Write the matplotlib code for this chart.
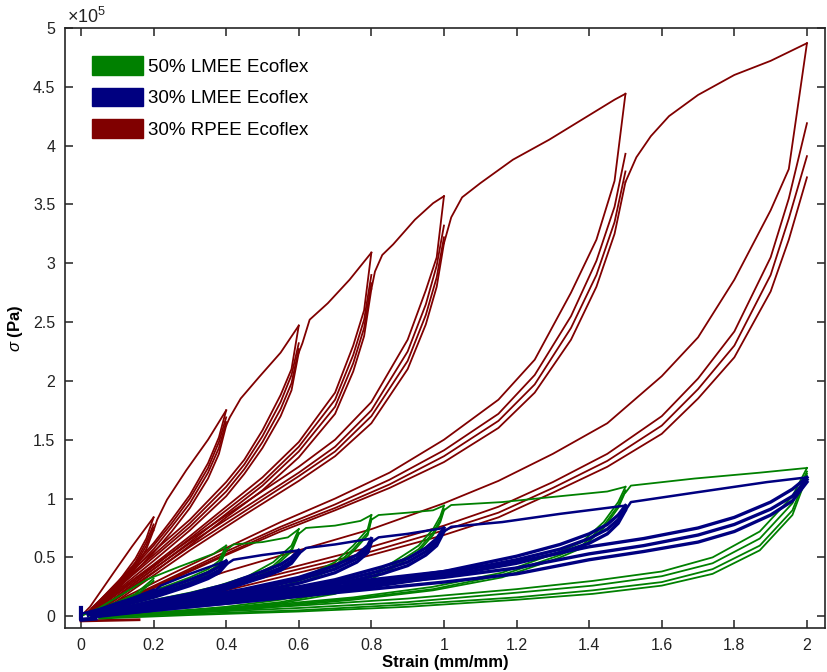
import matplotlib
matplotlib.use('Agg')
import matplotlib.pyplot as plt
from matplotlib.patches import Patch
from matplotlib.ticker import FuncFormatter, MultipleLocator

# stress values are in units of 1e5 Pa, strain in mm/mm
RED = '#800000'
GREEN = '#008000'
BLUE = '#000080'

LABELS = ['50% LMEE Ecoflex', '30% LMEE Ecoflex', '30% RPEE Ecoflex']

# ---------------- 30% RPEE Ecoflex (red) ----------------
# loading path (virgin curve + re-joins after each cycle block)
red_env_strain = [
    [0.0, 0.025, 0.09, 0.14, 0.2],
    [0.2, 0.21, 0.237, 0.29, 0.35, 0.4],
    [0.4, 0.41, 0.44, 0.49, 0.55, 0.6],
    [0.6, 0.61, 0.63, 0.68, 0.74, 0.8],
    [0.8, 0.81, 0.83, 0.86, 0.92, 0.97, 1.0],
    [1.0, 1.02, 1.05, 1.10, 1.19, 1.29, 1.38, 1.47, 1.5],
    [1.5, 1.53, 1.57, 1.62, 1.70, 1.80, 1.90, 2.0],
]
red_env_stress = [
    [0.0, 0.08, 0.37, 0.59, 0.84],
    [0.73, 0.82, 0.99, 1.24, 1.50, 1.75],
    [1.62, 1.69, 1.85, 2.03, 2.24, 2.47],
    [2.24, 2.32, 2.52, 2.66, 2.86, 3.09],
    [2.78, 2.93, 3.07, 3.16, 3.37, 3.51, 3.57],
    [3.17, 3.39, 3.56, 3.68, 3.88, 4.05, 4.22, 4.39, 4.44],
    [3.69, 3.90, 4.08, 4.25, 4.43, 4.60, 4.72, 4.87],
]
red_return_strain = [0.0, 0.16]
red_return_stress = [-0.04, -0.03]

# cycles at each maximum strain
red_l02_strain = [0.2, 0.18, 0.15, 0.1, 0.05, 0.02]
red_l02_stress = [
    [0.84, 0.66, 0.49, 0.28, 0.12, 0.03],
    [0.78, 0.63, 0.46, 0.26, 0.11, 0.02],
    [0.75, 0.60, 0.44, 0.25, 0.10, 0.02],
    [0.73, 0.57, 0.41, 0.23, 0.09, 0.01],
]
red_l04_strain = [0.4, 0.38, 0.35, 0.3, 0.25, 0.2, 0.15, 0.1, 0.05, 0.02]
red_l04_stress = [
    [1.75, 1.52, 1.30, 1.03, 0.82, 0.62, 0.45, 0.29, 0.13, 0.04],
    [1.69, 1.48, 1.26, 1.00, 0.79, 0.60, 0.43, 0.27, 0.12, 0.03],
    [1.65, 1.43, 1.22, 0.96, 0.76, 0.57, 0.41, 0.25, 0.11, 0.02],
    [1.62, 1.38, 1.17, 0.92, 0.72, 0.54, 0.38, 0.23, 0.09, 0.01],
]
red_l06_strain = [0.6, 0.58, 0.55, 0.5, 0.45, 0.4, 0.3, 0.2, 0.1, 0.03]
red_l06_stress = [
    [2.47, 2.10, 1.88, 1.58, 1.33, 1.14, 0.82, 0.55, 0.28, 0.07],
    [2.32, 2.05, 1.82, 1.53, 1.29, 1.10, 0.79, 0.52, 0.26, 0.05],
    [2.27, 1.98, 1.76, 1.48, 1.25, 1.06, 0.76, 0.50, 0.24, 0.04],
    [2.24, 1.92, 1.70, 1.43, 1.21, 1.02, 0.73, 0.47, 0.22, 0.02],
]
red_l08_strain = [0.8, 0.78, 0.75, 0.7, 0.6, 0.5, 0.4, 0.3, 0.2, 0.1, 0.03]
red_l08_stress = [
    [3.09, 2.60, 2.30, 1.90, 1.48, 1.18, 0.93, 0.68, 0.44, 0.21, 0.04],
    [2.90, 2.52, 2.22, 1.84, 1.44, 1.14, 0.90, 0.66, 0.42, 0.19, 0.03],
    [2.83, 2.45, 2.15, 1.78, 1.40, 1.11, 0.87, 0.63, 0.40, 0.17, 0.02],
    [2.78, 2.38, 2.08, 1.72, 1.35, 1.07, 0.84, 0.60, 0.37, 0.15, 0.0],
]
red_l10_strain = [1.0, 0.98, 0.95, 0.9, 0.8, 0.7, 0.6, 0.45, 0.3, 0.15, 0.04]
red_l10_stress = [
    [3.57, 3.05, 2.77, 2.35, 1.82, 1.50, 1.27, 0.96, 0.65, 0.32, 0.05],
    [3.32, 2.98, 2.65, 2.25, 1.75, 1.44, 1.22, 0.92, 0.62, 0.29, 0.03],
    [3.22, 2.88, 2.56, 2.17, 1.70, 1.40, 1.19, 0.89, 0.59, 0.27, 0.02],
    [3.17, 2.80, 2.48, 2.10, 1.64, 1.36, 1.15, 0.86, 0.56, 0.24, 0.0],
]
red_l15_strain = [1.5, 1.47, 1.42, 1.35, 1.25, 1.15, 1.0, 0.85, 0.7, 0.55, 0.4, 0.25, 0.12, 0.04]
red_l15_stress = [
    [4.44, 3.70, 3.20, 2.75, 2.18, 1.84, 1.50, 1.22, 1.00, 0.80, 0.58, 0.36, 0.16, 0.03],
    [3.93, 3.48, 3.02, 2.55, 2.05, 1.72, 1.41, 1.16, 0.95, 0.76, 0.55, 0.33, 0.14, 0.01],
    [3.78, 3.35, 2.90, 2.45, 1.97, 1.66, 1.36, 1.12, 0.92, 0.74, 0.53, 0.32, 0.13, 0.0],
    [3.69, 3.25, 2.80, 2.35, 1.90, 1.60, 1.31, 1.09, 0.90, 0.72, 0.52, 0.31, 0.12, 0.0],
]
red_l20_strain = [2.0, 1.95, 1.9, 1.8, 1.7, 1.6, 1.45, 1.3, 1.15, 1.0, 0.8, 0.6, 0.4, 0.2, 0.08]
red_l20_stress = [
    [4.87, 3.80, 3.45, 2.86, 2.37, 2.04, 1.64, 1.38, 1.15, 0.96, 0.74, 0.56, 0.38, 0.18, 0.05],
    [4.19, 3.55, 3.05, 2.42, 2.02, 1.70, 1.38, 1.14, 0.93, 0.77, 0.59, 0.43, 0.27, 0.11, 0.02],
    [3.91, 3.38, 2.90, 2.30, 1.93, 1.62, 1.32, 1.09, 0.88, 0.73, 0.55, 0.40, 0.25, 0.09, 0.01],
    [3.73, 3.20, 2.76, 2.20, 1.85, 1.55, 1.27, 1.05, 0.84, 0.69, 0.52, 0.37, 0.22, 0.06, 0.0],
]

# ---------------- 50% LMEE Ecoflex (green) ----------------
green_env_strain = [
    [0.0, 0.05, 0.18, 0.27, 0.365, 0.4],
    [0.4, 0.42, 0.5, 0.57, 0.6],
    [0.6, 0.62, 0.7, 0.77, 0.8],
    [0.8, 0.82, 0.9, 0.97, 1.0],
    [1.0, 1.02, 1.16, 1.32, 1.45, 1.5],
    [1.5, 1.515, 1.69, 1.87, 2.0],
]
green_env_stress = [
    [0.0, 0.07, 0.31, 0.42, 0.53, 0.60],
    [0.56, 0.61, 0.63, 0.67, 0.74],
    [0.70, 0.75, 0.77, 0.81, 0.86],
    [0.82, 0.86, 0.88, 0.90, 0.94],
    [0.90, 0.945, 0.97, 1.02, 1.06, 1.10],
    [1.05, 1.11, 1.17, 1.22, 1.26],
]
green_l02_strain = [0.2, 0.15, 0.1, 0.05, 0.02]
green_l02_stress = [
    [0.32, 0.19, 0.12, 0.05, 0.01],
    [0.30, 0.17, 0.10, 0.04, 0.0],
]
green_l04_strain = [0.4, 0.38, 0.35, 0.3, 0.23, 0.15, 0.09, 0.03]
green_l04_stress = [
    [0.60, 0.47, 0.40, 0.33, 0.25, 0.17, 0.11, 0.03],
    [0.57, 0.44, 0.38, 0.31, 0.23, 0.15, 0.09, 0.02],
    [0.56, 0.42, 0.36, 0.29, 0.21, 0.13, 0.07, 0.01],
]
green_l06_strain = [0.6, 0.58, 0.53, 0.46, 0.38, 0.3, 0.22, 0.12, 0.04]
green_l06_stress = [
    [0.74, 0.60, 0.46, 0.34, 0.26, 0.20, 0.15, 0.08, 0.02],
    [0.71, 0.57, 0.43, 0.32, 0.24, 0.18, 0.13, 0.06, 0.01],
    [0.70, 0.55, 0.41, 0.30, 0.22, 0.16, 0.11, 0.05, 0.0],
]
green_l08_strain = [0.8, 0.79, 0.75, 0.7, 0.62, 0.51, 0.4, 0.25, 0.1, 0.03]
green_l08_stress = [
    [0.86, 0.74, 0.60, 0.46, 0.34, 0.23, 0.16, 0.09, 0.03, 0.01],
    [0.83, 0.71, 0.57, 0.43, 0.32, 0.21, 0.14, 0.08, 0.02, 0.0],
    [0.82, 0.69, 0.55, 0.41, 0.30, 0.20, 0.13, 0.07, 0.02, 0.0],
]
green_l10_strain = [1.0, 0.99, 0.97, 0.93, 0.86, 0.79, 0.7, 0.55, 0.4, 0.2, 0.05]
green_l10_stress = [
    [0.94, 0.85, 0.74, 0.60, 0.46, 0.34, 0.23, 0.14, 0.08, 0.03, 0.0],
    [0.91, 0.82, 0.71, 0.57, 0.43, 0.32, 0.21, 0.12, 0.07, 0.02, 0.0],
    [0.90, 0.80, 0.69, 0.55, 0.41, 0.30, 0.19, 0.11, 0.06, 0.02, 0.0],
]
green_l15_strain = [1.5, 1.48, 1.44, 1.38, 1.32, 1.16, 0.97, 0.75, 0.5, 0.25, 0.05]
green_l15_stress = [
    [1.10, 0.97, 0.80, 0.63, 0.55, 0.37, 0.25, 0.16, 0.09, 0.04, 0.0],
    [1.07, 0.94, 0.77, 0.60, 0.52, 0.35, 0.23, 0.15, 0.08, 0.03, 0.0],
    [1.06, 0.92, 0.75, 0.58, 0.50, 0.33, 0.22, 0.14, 0.07, 0.02, 0.0],
]
green_l20_strain = [2.0, 1.96, 1.87, 1.74, 1.6, 1.41, 1.2, 0.9, 0.6, 0.3, 0.05]
green_l20_stress = [
    [1.26, 1.02, 0.72, 0.50, 0.38, 0.30, 0.23, 0.15, 0.09, 0.04, 0.0],
    [1.23, 0.96, 0.66, 0.45, 0.34, 0.26, 0.20, 0.12, 0.07, 0.03, 0.0],
    [1.21, 0.90, 0.60, 0.40, 0.29, 0.22, 0.16, 0.10, 0.05, 0.02, -0.01],
    [1.19, 0.86, 0.56, 0.36, 0.26, 0.19, 0.14, 0.08, 0.04, 0.01, -0.02],
]

# ---------------- 30% LMEE Ecoflex (blue) ----------------
blue_env_strain = [
    [0.0, 0.05, 0.1, 0.15, 0.2],
    [0.2, 0.22, 0.3, 0.4],
    [0.4, 0.42, 0.5, 0.6],
    [0.6, 0.62, 0.7, 0.8],
    [0.8, 0.82, 0.9, 1.0],
    [1.0, 1.02, 1.16, 1.32, 1.5],
    [1.5, 1.515, 1.69, 1.89, 2.0],
]
blue_env_stress = [
    [0.02, 0.06, 0.11, 0.16, 0.22],
    [0.21, 0.26, 0.36, 0.47],
    [0.44, 0.48, 0.52, 0.56],
    [0.53, 0.58, 0.61, 0.66],
    [0.63, 0.67, 0.70, 0.75],
    [0.72, 0.76, 0.80, 0.87, 0.94],
    [0.90, 0.97, 1.05, 1.14, 1.18],
]
blue_return_strain = [0.0, 0.0, 0.04]
blue_return_stress = [0.07, -0.03, -0.02]
blue_l02_strain = [0.2, 0.15, 0.1, 0.05, 0.02]
blue_l02_stress = [
    [0.22, 0.16, 0.10, 0.05, 0.02],
    [0.21, 0.14, 0.09, 0.04, 0.01],
]
blue_l04_strain = [0.4, 0.38, 0.35, 0.3, 0.2, 0.1, 0.03]
blue_l04_stress = [
    [0.47, 0.42, 0.37, 0.31, 0.20, 0.11, 0.03],
    [0.45, 0.39, 0.34, 0.28, 0.18, 0.09, 0.02],
    [0.44, 0.37, 0.32, 0.26, 0.16, 0.08, 0.01],
]
blue_l06_strain = [0.6, 0.58, 0.55, 0.5, 0.4, 0.3, 0.2, 0.1, 0.03]
blue_l06_stress = [
    [0.56, 0.50, 0.44, 0.38, 0.27, 0.19, 0.13, 0.06, 0.02],
    [0.54, 0.47, 0.41, 0.35, 0.25, 0.17, 0.11, 0.05, 0.01],
    [0.53, 0.45, 0.39, 0.33, 0.23, 0.15, 0.09, 0.04, 0.0],
]
blue_l08_strain = [0.8, 0.79, 0.76, 0.7, 0.6, 0.45, 0.3, 0.15, 0.04]
blue_l08_stress = [
    [0.66, 0.60, 0.52, 0.43, 0.33, 0.23, 0.15, 0.08, 0.02],
    [0.64, 0.57, 0.49, 0.40, 0.31, 0.21, 0.13, 0.06, 0.01],
    [0.63, 0.54, 0.46, 0.37, 0.28, 0.19, 0.12, 0.05, 0.0],
]
blue_l10_strain = [1.0, 0.98, 0.95, 0.9, 0.83, 0.7, 0.6, 0.45, 0.3, 0.15, 0.04]
blue_l10_stress = [
    [0.75, 0.66, 0.58, 0.49, 0.42, 0.31, 0.25, 0.18, 0.12, 0.06, 0.02],
    [0.73, 0.63, 0.55, 0.46, 0.39, 0.29, 0.23, 0.16, 0.10, 0.05, 0.01],
    [0.72, 0.60, 0.52, 0.43, 0.36, 0.27, 0.21, 0.14, 0.09, 0.04, 0.0],
]
blue_l15_strain = [1.5, 1.48, 1.45, 1.4, 1.32, 1.2, 1.0, 0.8, 0.6, 0.4, 0.2, 0.05]
blue_l15_stress = [
    [0.94, 0.86, 0.78, 0.70, 0.61, 0.51, 0.38, 0.29, 0.21, 0.14, 0.08, 0.02],
    [0.92, 0.82, 0.74, 0.66, 0.57, 0.48, 0.36, 0.27, 0.19, 0.12, 0.06, 0.01],
    [0.90, 0.79, 0.70, 0.62, 0.54, 0.45, 0.34, 0.25, 0.17, 0.11, 0.05, 0.0],
]
blue_l20_strain = [2.0, 1.96, 1.9, 1.8, 1.7, 1.55, 1.4, 1.2, 1.0, 0.8, 0.6, 0.4, 0.2, 0.05]
blue_l20_stress = [
    [1.18, 1.08, 0.97, 0.84, 0.75, 0.66, 0.59, 0.46, 0.38, 0.31, 0.24, 0.17, 0.10, 0.04],
    [1.16, 1.02, 0.91, 0.78, 0.69, 0.60, 0.53, 0.41, 0.33, 0.27, 0.20, 0.14, 0.07, 0.02],
    [1.14, 0.98, 0.86, 0.72, 0.63, 0.55, 0.48, 0.36, 0.29, 0.23, 0.17, 0.11, 0.05, 0.01],
]

plt.rcParams['font.family'] = ['Liberation Sans', 'DejaVu Sans']
plt.rcParams['mathtext.fontset'] = 'custom'
plt.rcParams['mathtext.rm'] = 'Liberation Sans'
plt.rcParams['mathtext.it'] = 'Liberation Sans:italic'


def draw_cycles(ax, strain, rows, color, lw):
    for row in rows:
        ax.plot(strain, row, color=color, lw=lw, solid_joinstyle='round')


def draw_envelope(ax, strains, stresses, color, lw):
    for s, v in zip(strains, stresses):
        ax.plot(s, v, color=color, lw=lw, solid_joinstyle='round')


fig = plt.figure(figsize=(8.28, 6.72), dpi=100)
ax = fig.add_axes([0.0785, 0.0655, 0.918, 0.893])

# red
for s, r in [(red_l02_strain, red_l02_stress), (red_l04_strain, red_l04_stress),
             (red_l06_strain, red_l06_stress), (red_l08_strain, red_l08_stress),
             (red_l10_strain, red_l10_stress), (red_l15_strain, red_l15_stress),
             (red_l20_strain, red_l20_stress)]:
    draw_cycles(ax, s, r, RED, 1.3)
draw_envelope(ax, red_env_strain, red_env_stress, RED, 1.3)
ax.plot(red_return_strain, red_return_stress, color=RED, lw=2.0)

# green
for s, r in [(green_l02_strain, green_l02_stress), (green_l04_strain, green_l04_stress),
             (green_l06_strain, green_l06_stress), (green_l08_strain, green_l08_stress),
             (green_l10_strain, green_l10_stress), (green_l15_strain, green_l15_stress),
             (green_l20_strain, green_l20_stress)]:
    draw_cycles(ax, s, r, GREEN, 1.3)
draw_envelope(ax, green_env_strain, green_env_stress, GREEN, 1.3)

# blue
for s, r in [(blue_l02_strain, blue_l02_stress), (blue_l04_strain, blue_l04_stress),
             (blue_l06_strain, blue_l06_stress), (blue_l08_strain, blue_l08_stress),
             (blue_l10_strain, blue_l10_stress), (blue_l15_strain, blue_l15_stress),
             (blue_l20_strain, blue_l20_stress)]:
    draw_cycles(ax, s, r, BLUE, 2.4)
draw_envelope(ax, blue_env_strain, blue_env_stress, BLUE, 1.8)
ax.plot(blue_return_strain, blue_return_stress, color=BLUE, lw=3.0)

ax.set_xlim(-0.044, 2.05)
ax.set_ylim(-0.1, 5.0)
ax.xaxis.set_major_locator(MultipleLocator(0.2))
ax.yaxis.set_major_locator(MultipleLocator(0.5))
fmt = FuncFormatter(lambda v, p: '%g' % round(v, 2))
ax.xaxis.set_major_formatter(fmt)
ax.yaxis.set_major_formatter(fmt)
ax.tick_params(direction='in', top=True, right=True, length=6, width=1.1,
               labelsize=11.5, colors='#222222', pad=7)
for sp in ax.spines.values():
    sp.set_linewidth(1.2)
    sp.set_color('#262626')

ax.set_xlabel('Strain (mm/mm)', fontsize=12, fontweight='bold', labelpad=2)
ax.set_ylabel(r'$\sigma$ (Pa)', fontsize=12, fontweight='bold', labelpad=6)
ax.text(0.002, 1.002, r'$\times$10$^5$', transform=ax.transAxes, fontsize=13,
        ha='left', va='bottom', color='#222222')

handles = [Patch(facecolor=c, edgecolor=c) for c in [GREEN, BLUE, RED]]
ax.legend(handles, LABELS, loc='upper left', bbox_to_anchor=(0.026, 0.965),
          frameon=False, fontsize=13.5, handlelength=2.7, handleheight=1.15,
          handletextpad=0.25, labelspacing=0.62, borderaxespad=0.2,
          borderpad=0.2)

fig.savefig('out.png', dpi=100)
